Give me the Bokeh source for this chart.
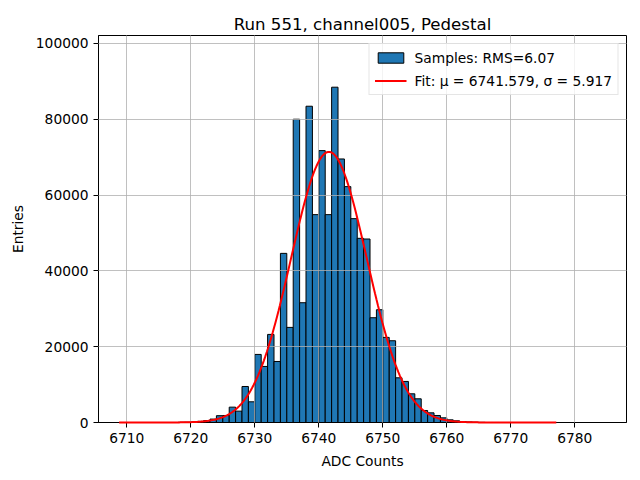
import numpy as np
from bokeh.plotting import figure
from bokeh.models import (Range1d, FixedTicker, Legend, LegendItem, ColumnDataSource,
                          BasicTickFormatter)
from bokeh.embed import file_html
from bokeh.resources import INLINE

# ---- data ----
bin_left = list(range(6718, 6766))
counts = [50, 80, 150, 300, 500, 900, 1800, 1850, 4050, 3000,
          9500, 5460, 17960, 14790, 23240, 16100, 44620, 25090, 80010, 31600,
          83440, 54840, 71730, 54840, 88460, 69530, 62230, 53780, 48590, 48410,
          27640, 29750, 22450, 21570, 11790, 10830, 7570, 6250, 3170, 2550,
          1850, 1230, 700, 440, 260, 150, 80, 40]
bin_width = 1.0

fit_mu = 6741.579
fit_sigma = 5.917
fit_amp = 71400.0
fit_x_min, fit_x_max = 6708.8, 6777.1

x_ticks = [6710, 6720, 6730, 6740, 6750, 6760, 6770, 6780]
y_ticks = [0, 20000, 40000, 60000, 80000, 100000]

title = "Run 551, channel005, Pedestal"
x_label = "ADC Counts"
y_label = "Entries"
hist_label = "Samples: RMS=6.07"
fit_label = "Fit: \u03bc = 6741.579, \u03c3 = 5.917"

FONT = "DejaVu Sans"
FS = "13.8px"

# ---- figure ----
p = figure(width=640, height=480, output_backend="svg", toolbar_location=None,
           x_range=Range1d(6705.58, 6788.07), y_range=Range1d(0, 102100),
           min_border_left=98, min_border_right=14, min_border_top=35, min_border_bottom=58)

p.title.text = title
p.title.text_font = FONT
p.title.text_font_size = "16.6px"
p.title.text_font_style = "normal"
p.title.align = "center"
p.title.text_color = "black"
p.title.standoff = 4

p.outline_line_color = "black"
p.outline_line_width = 1
p.background_fill_color = "white"
p.border_fill_color = "white"

for ax, lab, ticks in ((p.xaxis, x_label, x_ticks), (p.yaxis, y_label, y_ticks)):
    ax.ticker = FixedTicker(ticks=ticks)
    ax.formatter = BasicTickFormatter(use_scientific=False)
    ax.axis_label = lab
    ax.axis_label_text_font = FONT
    ax.axis_label_text_font_size = FS
    ax.axis_label_text_font_style = "normal"
    ax.axis_label_text_color = "black"
    ax.major_label_text_font = FONT
    ax.major_label_text_font_size = FS
    ax.major_label_text_color = "black"
    ax.major_tick_out = 5
    ax.major_tick_in = 0
    ax.minor_tick_out = 0
    ax.minor_tick_in = 0
    ax.axis_line_color = "black"
    ax.major_tick_line_color = "black"
    ax.major_label_standoff = 5
    ax.axis_label_standoff = 7

p.yaxis.major_label_orientation = "horizontal"

for g in (p.xgrid, p.ygrid):
    g.grid_line_color = "#b0b0b0"
    g.grid_line_width = 0.8
    g.level = "guide"
p.xgrid.ticker = FixedTicker(ticks=x_ticks)
p.ygrid.ticker = FixedTicker(ticks=y_ticks)

# histogram
src = ColumnDataSource(dict(left=bin_left,
                            right=[b + bin_width for b in bin_left],
                            top=counts))
bars = p.quad(left="left", right="right", top="top", bottom=0, source=src,
              fill_color="#1f77b4", line_color="black", line_width=1)

# fit curve from the fit parameters
fx = np.linspace(fit_x_min, fit_x_max, 300)
fy = fit_amp * np.exp(-0.5 * ((fx - fit_mu) / fit_sigma) ** 2)
fit = p.line(fx, fy, line_color="red", line_width=2)
fit.level = "annotation"

legend = Legend(items=[LegendItem(label=hist_label, renderers=[bars]),
                       LegendItem(label=fit_label, renderers=[fit])],
                location="top_right")
legend.label_text_font = FONT
legend.label_text_font_size = FS
legend.label_text_color = "black"
legend.glyph_width = 32
legend.glyph_height = 13
legend.label_height = 17
legend.spacing = 6
legend.padding = 5
legend.margin = 8
legend.label_standoff = 8
legend.border_line_color = "#cccccc"
legend.border_line_width = 1
legend.background_fill_color = "white"
legend.background_fill_alpha = 0.8
p.add_layout(legend)

open("out.html", "w").write(file_html(p, INLINE))
